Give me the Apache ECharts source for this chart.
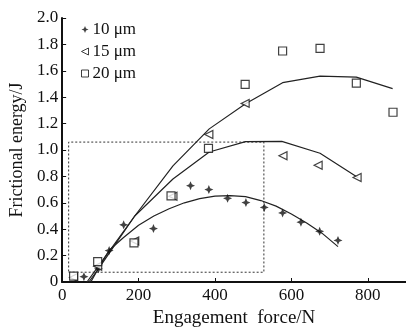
<!DOCTYPE html>
<html>
<head>
<meta charset="utf-8">
<script src="https://cdn.jsdelivr.net/npm/echarts@6/dist/echarts.min.js"></script>
<style>
  html, body { margin: 0; padding: 0; background: #fff; }
  #chart { width: 406px; height: 333px; }
</style>
</head>
<body>
<div id="chart"></div>
<script>
// measured points [force N, energy J]
var pts10 = [[57,0.04],[95,0.10],[123,0.238],[161,0.433],[239,0.405],[336,0.73],[384,0.70],
  [433,0.634],[481,0.602],[529,0.565],[577,0.523],[625,0.453],[674,0.384],[722,0.315]];
var pts15 = [[30,0.035],[93,0.12],[190,0.31],[290,0.65],[384,1.117],[479,1.353],
  [578,0.957],[670,0.885],[772,0.792]];
var pts20 = [[30,0.045],[93,0.155],[188,0.297],[285,0.652],[383,1.013],[479,1.497],
  [577,1.75],[675,1.77],[770,1.507],[866,1.286]];

// fitted curves
var fit10 = [[75,0],[100,0.13],[123,0.24],[160,0.335],[200,0.43],[240,0.50],[280,0.555],
  [320,0.60],[360,0.632],[400,0.65],[440,0.655],[480,0.647],[520,0.617],[560,0.575],
  [600,0.515],[640,0.447],[680,0.37],[722,0.268]];
var fit15 = [[70,0],[95,0.10],[190,0.50],[290,0.78],[385,0.985],[480,1.063],[575,1.065],
  [675,0.975],[775,0.79]];
var fit20 = [[65,0],[95,0.12],[190,0.50],[290,0.88],[385,1.16],[480,1.35],[577,1.51],
  [675,1.56],[770,1.552],[865,1.465]];

var names = ['10 μm', '15 μm', '20 μm'];
var box = [[17, 0.074], [528, 1.06]];

var serif = 'Liberation Serif';
var starPath = 'path://M0,-10 L3,-3 L10,0 L3,3 L0,10 L-3,3 L-10,0 L-3,-3 Z';
var leftTri = 'path://M10,0 L10,10 L0,5 Z';

var chart = echarts.init(document.getElementById('chart'));
chart.setOption({
  animation: false,
  grid: { left: 61, right: 0, top: 18, bottom: 46 },
  legend: {
    data: [
      { name: names[0], icon: starPath },
      { name: names[1], icon: leftTri },
      { name: names[2], icon: 'rect' }
    ],
    orient: 'vertical',
    left: 76,
    top: 16,
    padding: 5,
    itemWidth: 7,
    itemHeight: 7,
    itemGap: 5,
    itemStyle: { borderWidth: 1 },
    textStyle: { fontFamily: serif, fontSize: 17, color: '#111', padding: [0, 0, 0, -1] }
  },
  xAxis: {
    type: 'value', min: 0, max: 900, interval: 200,
    name: 'Engagement  force/N', nameLocation: 'middle', nameGap: 27,
    nameTextStyle: { fontFamily: serif, fontSize: 19, color: '#111' },
    axisLine: { lineStyle: { color: '#111', width: 2 } },
    axisTick: { inside: true, length: 4, lineStyle: { color: '#111' } },
    axisLabel: { showMaxLabel: false, margin: 5, fontFamily: serif, fontSize: 17, color: '#111' },
    splitLine: { show: false }
  },
  yAxis: {
    type: 'value', min: 0, max: 2, interval: 0.2,
    name: 'Frictional energy/J', nameLocation: 'middle', nameGap: 36,
    nameTextStyle: { fontFamily: serif, fontSize: 18, color: '#111' },
    axisLine: { show: true, lineStyle: { color: '#111', width: 2 } },
    axisTick: { show: true, inside: true, length: 4, lineStyle: { color: '#111' } },
    axisLabel: {
      margin: 4, fontFamily: serif, fontSize: 17, color: '#111',
      formatter: function (v) { return v === 0 ? '0' : v.toFixed(1); }
    },
    splitLine: { show: false }
  },
  series: [
    {
      name: names[0], type: 'scatter', data: pts10,
      symbol: starPath, symbolSize: 9,
      itemStyle: { color: '#111' },
      markArea: {
        silent: true,
        itemStyle: { color: 'rgba(0,0,0,0)', borderColor: '#333', borderWidth: 1, borderType: [2, 2] },
        data: [[{ coord: box[0] }, { coord: box[1] }]]
      },
      z: 3
    },
    {
      name: names[1], type: 'scatter', data: pts15,
      symbol: leftTri, symbolSize: 8,
      itemStyle: { color: '#fff', borderColor: '#111', borderWidth: 1.2 },
      z: 3
    },
    {
      name: names[2], type: 'scatter', data: pts20,
      symbol: 'rect', symbolSize: 8,
      itemStyle: { color: '#fff', borderColor: '#111', borderWidth: 1.2 },
      z: 3
    },
    { type: 'line', data: fit10, showSymbol: false, lineStyle: { color: '#222', width: 1.2 }, z: 2 },
    { type: 'line', data: fit15, showSymbol: false, lineStyle: { color: '#222', width: 1.2 }, z: 2 },
    { type: 'line', data: fit20, showSymbol: false, lineStyle: { color: '#222', width: 1.2 }, z: 2 }
  ]
});
</script>
</body>
</html>
